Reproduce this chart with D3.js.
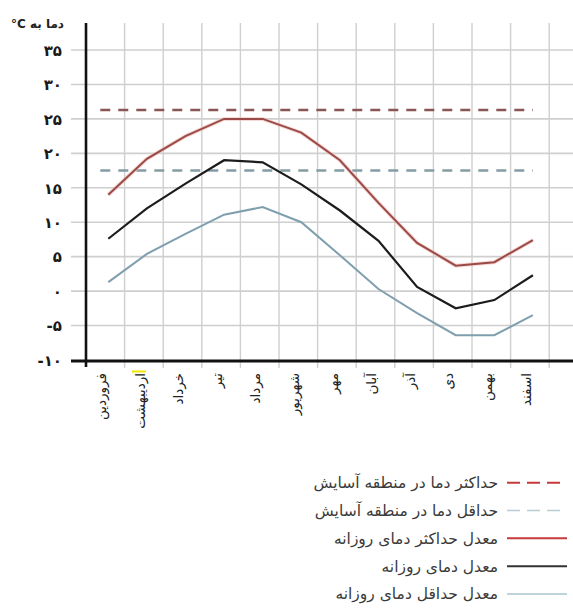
<!DOCTYPE html>
<html><head><meta charset="utf-8">
<script src="https://cdn.jsdelivr.net/npm/d3@7"></script>
<style>
html,body{margin:0;padding:0;background:#fff;}
svg{display:block;}
</style></head>
<body>
<script>
// ---- data ----
const months = ["فروردین","اردیبهشت","خرداد","تیر","مرداد","شهریور","مهر","آبان","آذر","دی","بهمن","اسفند"];
const maxDaily = [14, 19.2, 22.5, 25, 25, 23, 19, 12.8, 7, 3.7, 4.2, 7.4];
const avgDaily = [7.6, 12, 15.6, 19, 18.7, 15.5, 11.7, 7.3, 0.6, -2.5, -1.3, 2.3];
const minDaily = [1.3, 5.4, 8.3, 11.1, 12.2, 10, 5.2, 0.3, -3.2, -6.4, -6.4, -3.5];
const comfortMax = 26.3;
const comfortMin = 17.5;
const yTicks = [35,30,25,20,15,10,5,0,-5,-10];
const yTickLabels = ["۳۵","۳۰","۲۵","۲۰","۱۵","۱۰","۵","۰","-۵","-۱۰"];
const yTitle = "دما به \u200E°C";
const legendLabels = ["حداکثر دما در منطقه آسایش","حداقل دما در منطقه آسایش","معدل حداکثر دمای روزانه","معدل دمای روزانه","معدل حداقل دمای روزانه"];

const W = 573, H = 608;
const svg = d3.select("body").append("svg").attr("width", W).attr("height", H);

const x = d3.scaleBand().domain(months).range([86, 549.2]);
const bw = x.bandwidth();
const y = d3.scaleLinear().domain([-10, 35]).range([360, 50]);
const px = m => x(m) + bw/2 + 3;

const gridColor = "#cfcfcf";
// horizontal grid
svg.append("g").selectAll("line").data(yTicks.filter(t => t > -10)).join("line")
  .attr("x1", 71).attr("x2", W).attr("y1", d => y(d)).attr("y2", d => y(d))
  .attr("stroke", gridColor).attr("stroke-width", 1.6);
// vertical grid
svg.append("g").selectAll("line").data(months).join("line")
  .attr("x1", d => x(d) + bw).attr("x2", d => x(d) + bw)
  .attr("y1", 23).attr("y2", 368)
  .attr("stroke", gridColor).attr("stroke-width", 1.4);

// y tick labels via axis
const yAxis = d3.axisLeft(y).tickValues(yTicks).tickSize(0).tickPadding(0)
  .tickFormat((d,i) => yTickLabels[i]);
const gy = svg.append("g").attr("transform", "translate(62,0)").call(yAxis);
gy.select(".domain").remove();
gy.selectAll("text").attr("font-family", "DejaVu Sans").attr("font-size", 15)
  .attr("font-weight", "bold").attr("fill", "#1a1a1a").attr("dy", "0.35em");

// axes lines
svg.append("line").attr("x1", 86).attr("x2", 86).attr("y1", 23).attr("y2", 367)
  .attr("stroke", "#111").attr("stroke-width", 2.6);
svg.append("line").attr("x1", 71).attr("x2", W).attr("y1", y(-10) + 1).attr("y2", y(-10) + 1)
  .attr("stroke", "#111").attr("stroke-width", 3);

// title
svg.append("text").attr("x", 64).attr("y", 28).attr("text-anchor", "start")
  .attr("font-family", "DejaVu Sans").attr("font-size", 12).attr("font-weight", "bold")
  .attr("fill", "#222").attr("direction", "rtl").text(yTitle);

// x labels
const gx = svg.append("g");
gx.selectAll("text").data(months).join("text")
  .attr("transform", d => `translate(${x(d) + bw/2 - 4},373) rotate(-90)`)
  .attr("text-anchor", "end").attr("dy", "0.35em")
  .attr("font-family", "DejaVu Sans").attr("font-size", 13.5).attr("fill", "#222")
  .text(d => d);
// yellow highlight mark
svg.append("rect").attr("x", x(months[1]) + bw/2 - 12).attr("y", 370.5).attr("width", 14).attr("height", 2)
  .attr("fill", "#f2e600");

// comfort dashed lines
const x0 = px(months[0]) - 8, x1 = px(months[11]);
svg.append("line").attr("x1", x0).attr("x2", x1).attr("y1", y(comfortMax)).attr("y2", y(comfortMax))
  .attr("stroke", "#8a5555").attr("stroke-width", 2.6).attr("stroke-dasharray", "10,8");
svg.append("line").attr("x1", x0).attr("x2", x1).attr("y1", y(comfortMin)).attr("y2", y(comfortMin))
  .attr("stroke", "#849ca4").attr("stroke-width", 2.6).attr("stroke-dasharray", "10,8");

// data lines
const line = d3.line().x((d,i) => px(months[i])).y(d => y(d));
svg.append("path").datum(maxDaily).attr("d", line).attr("fill", "none")
  .attr("stroke", "#f0c0b8").attr("stroke-width", 4).attr("opacity", 0.6);
svg.append("path").datum(maxDaily).attr("d", line).attr("fill", "none")
  .attr("stroke", "#9a4a48").attr("stroke-width", 2);
svg.append("path").datum(avgDaily).attr("d", line).attr("fill", "none")
  .attr("stroke", "#1c1c1c").attr("stroke-width", 2.2);
svg.append("path").datum(minDaily).attr("d", line).attr("fill", "none")
  .attr("stroke", "#7f9fae").attr("stroke-width", 2);

// legend
const legStyles = [
  {c:"#c53a3a", dash:"13,7", w:2},
  {c:"#b8ccd4", dash:"13,7", w:1.6},
  {c:"#c53a3a", dash:null, w:2},
  {c:"#333", dash:null, w:2},
  {c:"#a9c6d2", dash:null, w:1.6}
];
const legY = d3.scalePoint().domain(d3.range(5)).range([482.7, 594]);
const lg = svg.append("g");
legendLabels.forEach((t, i) => {
  const s = legStyles[i];
  lg.append("line").attr("x1", 507).attr("x2", 567).attr("y1", legY(i)).attr("y2", legY(i))
    .attr("stroke", s.c).attr("stroke-width", s.w).attr("stroke-dasharray", s.dash);
  lg.append("text").attr("x", 498).attr("y", legY(i)).attr("dy", "0.35em")
    .attr("text-anchor", "start").attr("direction", "rtl")
    .attr("font-family", "DejaVu Sans").attr("font-size", 15.5).attr("fill", "#3a3a3a").text(t);
});
</script>
</body></html>
